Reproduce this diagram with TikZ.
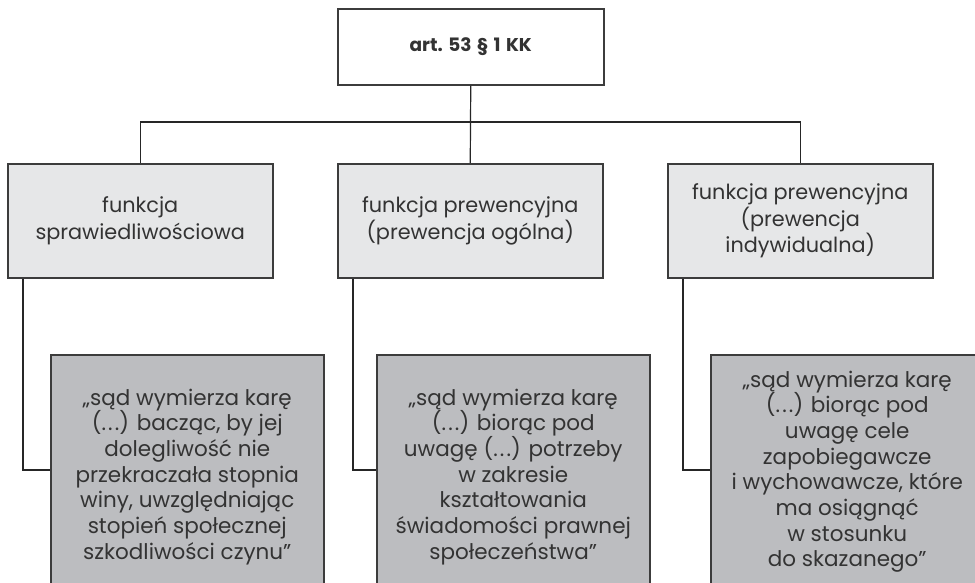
\documentclass[tikz,border=0pt]{standalone}
\usepackage{fontspec}
\setmainfont{Poppins}
\definecolor{txt}{HTML}{333333}
\definecolor{edge}{HTML}{3C3C3C}
\definecolor{lightfill}{HTML}{E6E7E8}
\definecolor{darkfill}{HTML}{BCBDC0}
\newcommand{\dd}{(.\kern2.2pt.\kern2.2pt.)}
\newcommand{\wsp}{\hspace{0.3em}}
\begin{document}
\begin{tikzpicture}[x=1pt,y=-1pt,
  box/.style={draw=edge,line width=1.5pt,rectangle,inner sep=0pt,align=center,text=txt,anchor=north west},
  topbox/.style={box,fill=white,minimum width=266pt,minimum height=76pt,font=\fontsize{18.5}{22}\selectfont\bfseries},
  midbox/.style={box,fill=lightfill,minimum width=265pt,minimum height=114pt,font=\fontsize{20.8}{26.5}\selectfont},
  lowbox/.style={box,fill=darkfill,minimum width=273pt,font=\fontsize{21.5}{25.7}\selectfont},
  conn/.style={draw=black!85,line width=1.2pt}]
\useasboundingbox (0,0) rectangle (975,582);
\fill[white] (0,0) rectangle (975,582);
\node[topbox] (T) at (337,8) {art.\wsp53\wsp§\wsp1\wsp KK};
\node[midbox] (L) at (7,163) {funkcja\\sprawiedliwościowa};
\node[midbox] (M) at (337,163) {funkcja prewencyjna\\(prewencja ogólna)};
\node[midbox] (R) at (667,163) {funkcja prewencyjna\\(prewencja\\indywidualna)};
\node[lowbox,minimum height=244pt] (LB) at (50,354) {„sąd wymierza karę\\\dd{} bacząc, by jej\\dolegliwość nie\\przekraczała stopnia\\winy, uwzględniając\\stopień społecznej\\szkodliwości czynu”};
\node[lowbox,minimum height=244pt] (MB) at (376,354) {„sąd wymierza karę\\\dd{} biorąc pod\\uwagę \dd{} potrzeby\\w zakresie\\kształtowania\\świadomości prawnej\\społeczeństwa”};
\node[lowbox,minimum height=234pt] (RB) at (710,354) {„sąd wymierza karę\\\dd{} biorąc pod\\uwagę cele\\zapobiegawcze\\i wychowawcze, które\\ma osiągnąć\\w stosunku\\do skazanego”};
\draw[conn] (T.south) -- (M.north);
\draw[conn] (L.north) -- ++(0,-41) -| (R.north);
\draw[conn] ([xshift=16pt]L.south west) |- ([yshift=-116pt]LB.north west);
\draw[conn] ([xshift=16pt]M.south west) |- ([yshift=-116pt]MB.north west);
\draw[conn] ([xshift=16pt]R.south west) |- ([yshift=-116pt]RB.north west);
\end{tikzpicture}
\end{document}
